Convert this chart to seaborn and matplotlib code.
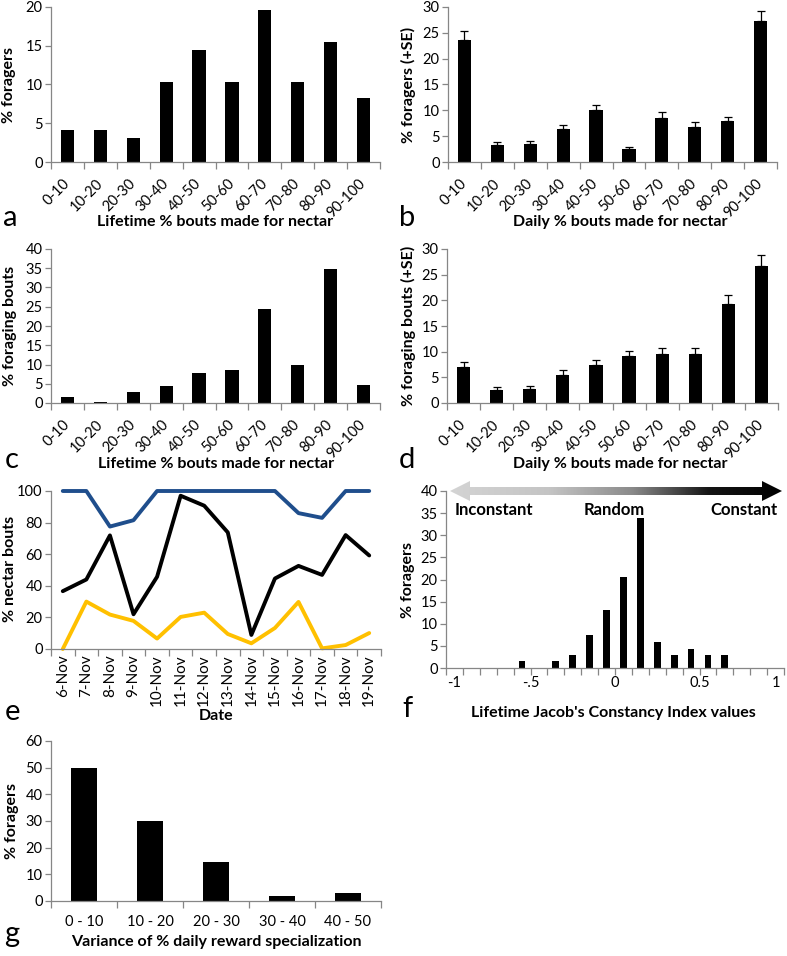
import numpy as np
import pandas as pd
import matplotlib
matplotlib.use('Agg')
import matplotlib.pyplot as plt
import seaborn as sns
from matplotlib.patches import Polygon
from matplotlib.colors import LinearSegmentedColormap
from matplotlib.ticker import FixedLocator, MultipleLocator

# ---------------- data ----------------
bins10 = ['0-10', '10-20', '20-30', '30-40', '40-50', '50-60', '60-70', '70-80', '80-90', '90-100']
a_vals = [4.1, 4.1, 3.1, 10.3, 14.4, 10.3, 19.6, 10.3, 15.5, 8.2]
b_vals = [23.7, 3.2, 3.4, 6.3, 10.1, 2.5, 8.6, 6.8, 7.9, 27.3]
b_se = [1.7, 0.6, 0.6, 0.9, 0.9, 0.5, 1.0, 1.0, 0.9, 2.0]
c_vals = [1.5, 0.2, 2.9, 4.3, 7.8, 8.7, 24.4, 10.0, 34.8, 4.7]
d_vals = [7.0, 2.5, 2.7, 5.4, 7.5, 9.2, 9.5, 9.5, 19.3, 26.7]
d_se = [0.9, 0.6, 0.6, 1.0, 0.9, 1.0, 1.3, 1.3, 1.8, 2.2]

dates = ['6-Nov', '7-Nov', '8-Nov', '9-Nov', '10-Nov', '11-Nov', '12-Nov',
         '13-Nov', '14-Nov', '15-Nov', '16-Nov', '17-Nov', '18-Nov', '19-Nov']
e_max = [100, 100, 77.5, 81.5, 100, 100, 100, 100, 100, 100, 86.0, 83.0, 100, 100]
e_mean = [36.6, 44.0, 71.9, 22.0, 45.7, 97.0, 90.7, 73.8, 8.9, 44.6, 52.6, 46.9, 72.1, 59.2]
e_min = [0.0, 30.0, 21.8, 17.8, 6.6, 20.3, 23.0, 9.5, 3.6, 13.3, 29.8, 0.4, 2.5, 10.1]

f_bins = ['-1.0', '-0.9', '-0.8', '-0.7', '-0.6', '-0.5', '-0.4', '-0.3', '-0.2', '-0.1',
          '0.0', '0.1', '0.2', '0.3', '0.4', '0.5', '0.6', '0.7', '0.8', '0.9']
f_vals = [0, 0, 0, 0, 1.5, 0, 1.5, 2.9, 7.4, 13.2, 20.6, 33.8, 5.9, 2.9, 4.4, 2.9, 2.9, 0, 0, 0]
f_tick_labels = ['-1', '-.5', '0', '0.5', '1']

g_cats = ['0 - 10', '10 - 20', '20 - 30', '30 - 40', '40 - 50']
g_vals = [50.0, 30.1, 14.5, 2.0, 3.1]

# ---------------- style ----------------
sns.set_theme(style='white')
plt.rcParams['font.family'] = ['Lato', 'DejaVu Sans']
plt.rcParams['text.color'] = 'black'
plt.rcParams['axes.labelcolor'] = 'black'

W, H = 787, 956
fig = plt.figure(figsize=(W / 100, H / 100), dpi=100)

AXC = '#868686'
TICK_FS = 10.5
LAB_FS = 11.5
LET_FS = 21


def add_ax(l, t, r, b):
    return fig.add_axes([l / W, 1 - b / H, (r - l) / W, (b - t) / H])


def style(ax, ymax, ystep, n):
    sns.despine(ax=ax)
    for s in ['left', 'bottom']:
        ax.spines[s].set_color(AXC)
        ax.spines[s].set_linewidth(0.9)
    ax.set_ylim(0, ymax)
    ax.yaxis.set_major_locator(MultipleLocator(ystep))
    ax.set_xlim(-0.5, n - 0.5)
    ax.xaxis.set_minor_locator(FixedLocator(np.arange(-0.5, n, 1.0)))
    ax.xaxis.remove_overlapping_locs = False
    ax.tick_params(axis='y', which='major', direction='out', length=4, color=AXC, width=0.9,
                   labelsize=TICK_FS, labelcolor='black', pad=2, left=True)
    ax.tick_params(axis='x', which='minor', direction='out', length=5, color=AXC, width=0.9, bottom=True)
    ax.tick_params(axis='x', which='major', length=0, labelsize=TICK_FS, labelcolor='black', bottom=True)


def labels(ax, xlabel, xl_pos, ylabel, yl_pos):
    ax.set_xlabel(xlabel, fontsize=LAB_FS, fontweight='bold', va='baseline')
    ax.xaxis.set_label_coords(xl_pos[0] / W, 1 - xl_pos[1] / H, transform=fig.transFigure)
    ax.set_ylabel(ylabel, fontsize=LAB_FS, fontweight='bold', va='center')
    ax.yaxis.set_label_coords(yl_pos[0] / W, 1 - yl_pos[1] / H, transform=fig.transFigure)


def letter(ch, x, y):
    fig.text(x / W, 1 - y / H, ch, fontsize=LET_FS, ha='center', va='baseline')


def bar_panel(ax, cats, vals, se=None):
    df = pd.DataFrame({'cat': cats, 'val': vals})
    sns.barplot(data=df, x='cat', y='val', order=cats, color='black', saturation=1,
                width=0.4, linewidth=0, errorbar=None, ax=ax)
    if se is not None:
        ax.errorbar(np.arange(len(cats)), vals, yerr=[np.zeros(len(cats)), se], fmt='none',
                    ecolor='black', elinewidth=0.9, capsize=3, capthick=0.9)


def rot45(ax, pad=14):
    ax.tick_params(axis='x', which='major', pad=pad)
    for lab in ax.get_xticklabels():
        lab.set_rotation(45)
        lab.set_ha('right')
        lab.set_va('center')
        lab.set_rotation_mode('anchor')


# ---------------- panel a ----------------
ax = add_ax(51, 7, 380, 162)
bar_panel(ax, bins10, a_vals)
style(ax, 20, 5, 10)
rot45(ax)
labels(ax, 'Lifetime % bouts made for nectar', (215, 226), '% foragers', (9, 85))
letter('a', 10, 226)

# ---------------- panel b ----------------
ax = add_ax(448, 7, 777, 162)
bar_panel(ax, bins10, b_vals, b_se)
style(ax, 30, 5, 10)
rot45(ax)
labels(ax, 'Daily % bouts made for nectar', (620, 226), '% foragers (+SE)', (408, 85))
letter('b', 407, 226)

# ---------------- panel c ----------------
ax = add_ax(51, 249, 380, 403)
bar_panel(ax, bins10, c_vals)
style(ax, 40, 5, 10)
rot45(ax)
labels(ax, 'Lifetime % bouts made for nectar', (216, 468), '% foraging bouts', (10, 326))
letter('c', 12, 468)

# ---------------- panel d ----------------
ax = add_ax(447, 249, 778, 403)
bar_panel(ax, bins10, d_vals, d_se)
style(ax, 30, 5, 10)
rot45(ax)
labels(ax, 'Daily % bouts made for nectar', (620, 468), '% foraging bouts (+SE)', (408, 326))
letter('d', 407, 468)

# ---------------- panel e ----------------
ax = add_ax(51, 491, 381, 649)
n = len(dates)
df_e = pd.DataFrame({'date': dates * 3,
                     'pct': e_max + e_mean + e_min,
                     'series': ['max'] * n + ['mean'] * n + ['min'] * n})
sns.lineplot(data=df_e, x='date', y='pct', hue='series',
             palette={'max': '#1f4e8c', 'mean': 'black', 'min': '#ffc000'},
             linewidth=2.8, sort=False, legend=False, errorbar=None, ax=ax)
style(ax, 100, 20, n)
for line in ax.lines:
    line.set_clip_on(False)
ax.tick_params(axis='x', which='major', labelrotation=90, pad=4, labelsize=11)
labels(ax, 'Date', (216, 720), '% nectar bouts', (10, 569))
letter('e', 13, 720)

# ---------------- panel f ----------------
ax = add_ax(446, 491, 784, 668)
bar_panel(ax, f_bins, f_vals)
style(ax, 40, 5, len(f_bins))
ax.xaxis.set_major_locator(FixedLocator([0, 4.5, 9.5, 14.5, 19]))
ax.set_xticklabels(f_tick_labels)
ax.tick_params(axis='x', which='major', pad=6)
labels(ax, "Lifetime Jacob's Constancy Index values", (613, 717), '% foragers', (408, 580))
letter('f', 407, 717)

# gradient double arrow
aax = fig.add_axes([446 / W, 1 - 504 / H, 340 / W, 26 / H])
aax.set_xlim(446, 786)
aax.set_ylim(504, 478)
aax.axis('off')
yc, sh, hh, hl = 491, 4, 10, 20
x0, x1 = 450, 782
verts = [(x0, yc), (x0 + hl, yc - hh), (x0 + hl, yc - sh), (x1 - hl, yc - sh), (x1 - hl, yc - hh),
         (x1, yc), (x1 - hl, yc + hh), (x1 - hl, yc + sh), (x0 + hl, yc + sh), (x0 + hl, yc + hh)]
poly = Polygon(verts, closed=True, facecolor='none', edgecolor='none', transform=aax.transData)
aax.add_patch(poly)
cmap = LinearSegmentedColormap.from_list('arr', [(0, '#d4d4d4'), (0.3, '#c4c4c4'), (0.55, '#8a8a8a'),
                                                 (0.78, '#151515'), (1, '#000000')])
grad = np.linspace(0, 1, 256).reshape(1, -1)
im = aax.imshow(grad, cmap=cmap, extent=[x0, x1, yc + hh, yc - hh], aspect='auto', interpolation='bilinear')
im.set_clip_path(poly)

for txt, x in [('Inconstant', 494), ('Random', 614), ('Constant', 744)]:
    fig.text(x / W, 1 - 510 / H, txt, fontsize=12, fontweight='bold', ha='center', va='center')

# ---------------- panel g ----------------
ax = add_ax(51, 741, 381, 901)
bar_panel(ax, g_cats, g_vals)
style(ax, 60, 10, len(g_cats))
ax.tick_params(axis='x', which='major', pad=10)
labels(ax, 'Variance of % daily reward specialization', (216, 946), '% foragers', (12, 821))
letter('g', 12, 942)

fig.savefig('out.png', dpi=100)
